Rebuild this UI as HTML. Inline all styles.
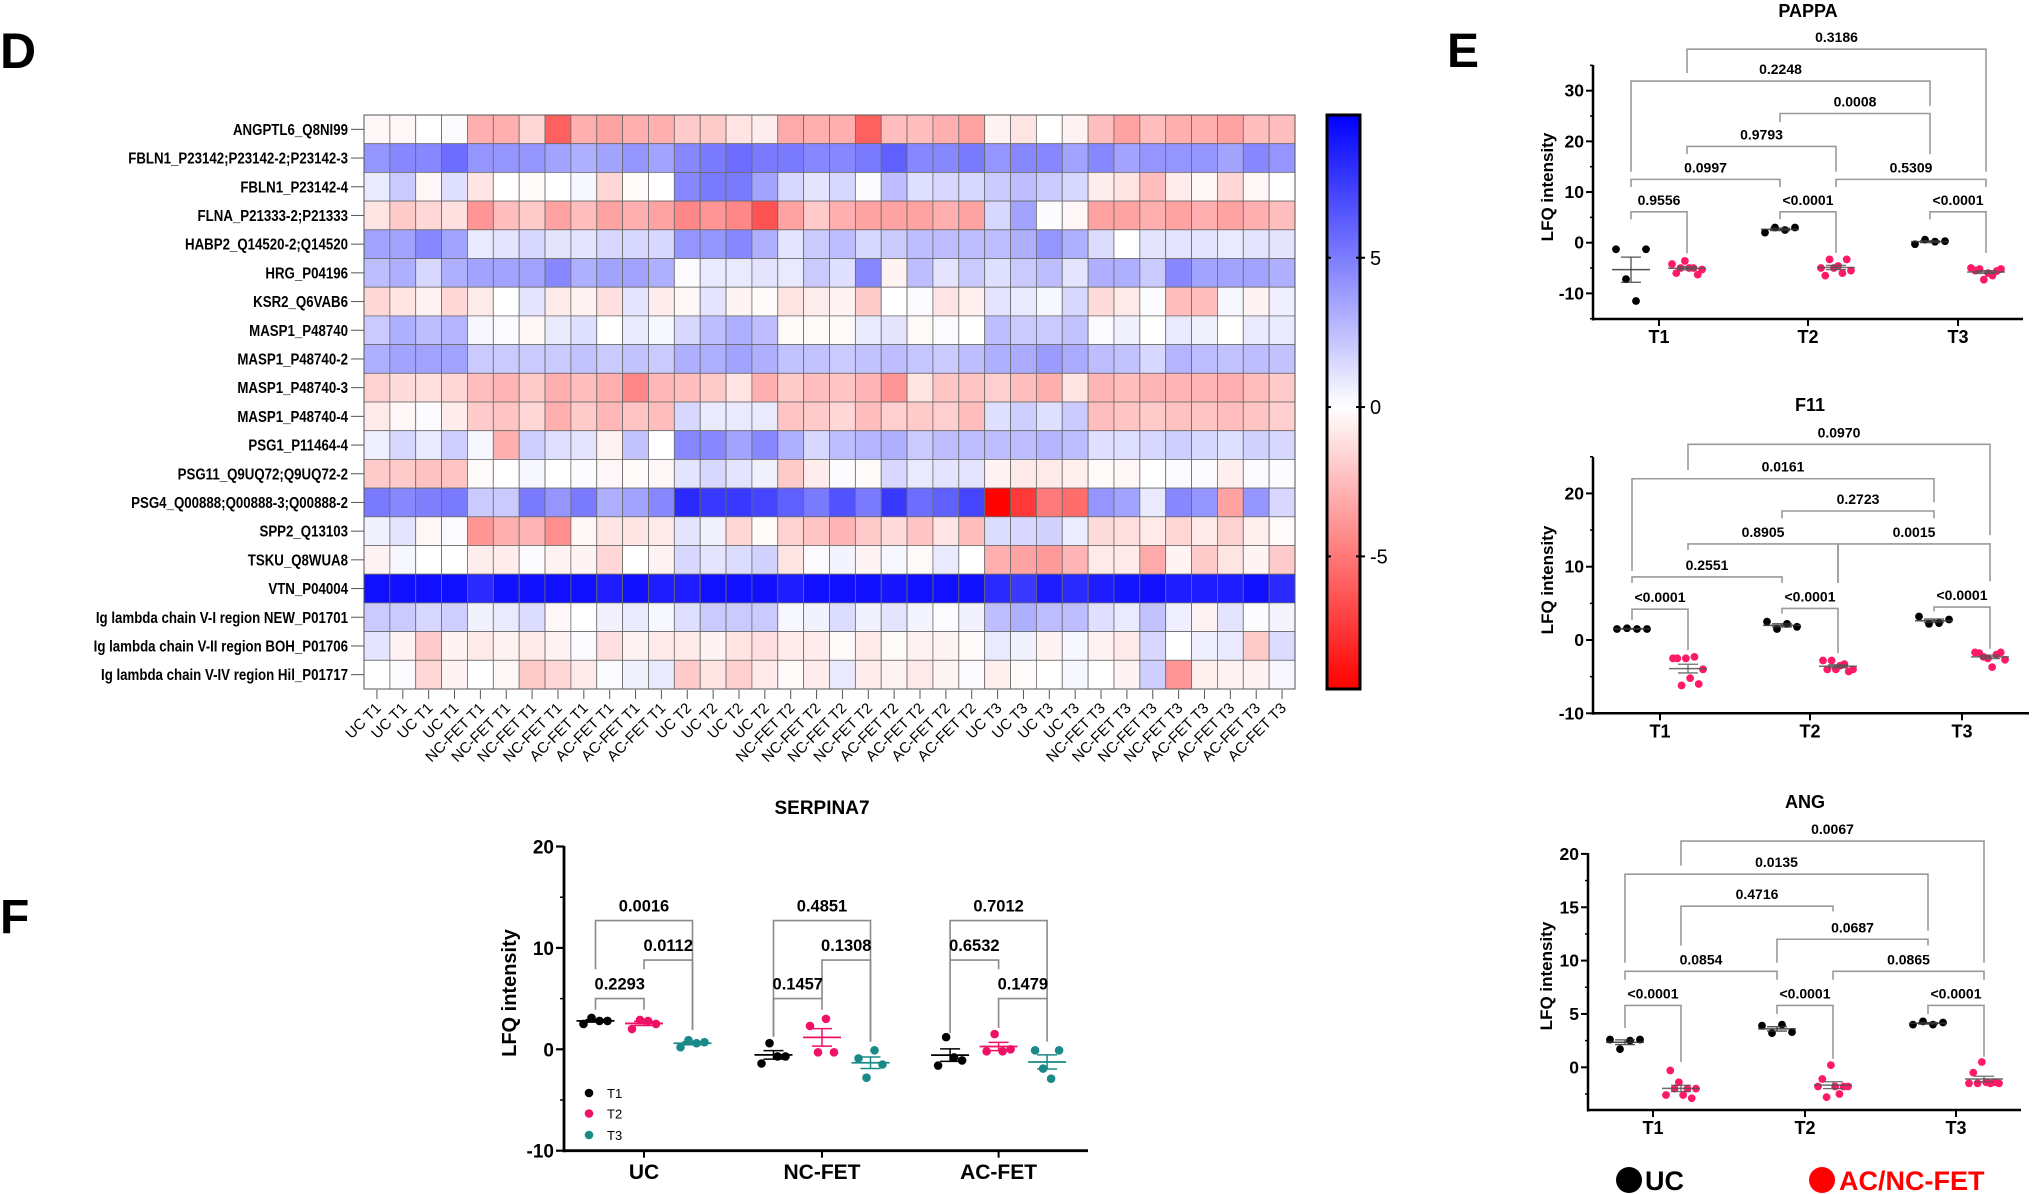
<!DOCTYPE html>
<html><head><meta charset="utf-8"><style>
html,body{margin:0;padding:0;background:#fff;}
svg{display:block;font-family:"Liberation Sans",Arial,sans-serif;}
</style></head><body>
<svg id="fig" width="2032" height="1194" viewBox="0 0 2032 1194" xmlns="http://www.w3.org/2000/svg">
<defs>
<linearGradient id="cbar" x1="0" y1="0" x2="0" y2="1">
<stop offset="0" stop-color="#0000ff"/><stop offset="0.509" stop-color="#ffffff"/><stop offset="1" stop-color="#ff0000"/>
</linearGradient>
</defs>
<text x="0" y="68" font-size="50" font-weight="bold">D</text>
<text x="1447" y="67" font-size="48" font-weight="bold">E</text>
<text x="0" y="933" font-size="48" font-weight="bold">F</text>
<g id="heat"></g>
<g id="cb"></g>
<g id="pappa"></g>
<g id="f11"></g>
<g id="ang"></g>
<g id="serp"></g>
<g>
<circle cx="1629" cy="1180" r="13" fill="#000"/>
<text x="1645" y="1190" font-size="27" font-weight="bold">UC</text>
<circle cx="1822" cy="1180" r="13" fill="#ff0000"/>
<text x="1839" y="1190" font-size="27" font-weight="bold" fill="#ff0000">AC/NC-FET</text>
</g>
</svg>
<script>
const heatRows = ["ANGPTL6_Q8NI99","FBLN1_P23142;P23142-2;P23142-3","FBLN1_P23142-4","FLNA_P21333-2;P21333","HABP2_Q14520-2;Q14520","HRG_P04196","KSR2_Q6VAB6","MASP1_P48740","MASP1_P48740-2","MASP1_P48740-3","MASP1_P48740-4","PSG1_P11464-4","PSG11_Q9UQ72;Q9UQ72-2","PSG4_Q00888;Q00888-3;Q00888-2","SPP2_Q13103","TSKU_Q8WUA8","VTN_P04004","Ig lambda chain V-I region NEW_P01701","Ig lambda chain V-II region BOH_P01706","Ig lambda chain V-IV region Hil_P01717"];
const heatCols = ["UC T1","UC T1","UC T1","UC T1","NC-FET T1","NC-FET T1","NC-FET T1","NC-FET T1","AC-FET T1","AC-FET T1","AC-FET T1","AC-FET T1","UC T2","UC T2","UC T2","UC T2","NC-FET T2","NC-FET T2","NC-FET T2","NC-FET T2","AC-FET T2","AC-FET T2","AC-FET T2","AC-FET T2","UC T3","UC T3","UC T3","UC T3","NC-FET T3","NC-FET T3","NC-FET T3","NC-FET T3","AC-FET T3","AC-FET T3","AC-FET T3","AC-FET T3"];
const heatValues = [
[-0.3,-0.3,0,0.1,-3,-3,-1.5,-6,-3,-3.5,-3,-3,-2,-2,-1,-0.7,-3.2,-3,-3,-6,-2.5,-2.5,-3,-3.5,-0.5,-1,0,-0.5,-2.5,-3.5,-2.5,-3,-3,-3.5,-2.5,-2.5],
[4,4.5,4.5,5.5,4,4,4,3.5,3,3.5,4,3.5,4.5,5,5.5,5,5,4.5,4.5,5,6,4.5,4.5,5,4,4.5,4.5,3.5,4.5,3.5,4,4,4,3.5,4.5,4],
[0.8,2,-0.3,1.2,-1,0,-0.2,0,0.3,-1.5,-0.2,0,4.5,5,5,3.5,1.5,1,1.5,0.2,2.5,1.2,1.5,1.5,2,2.5,2,1.5,-0.7,-1,-2.5,-0.7,-0.3,-1.5,-0.3,0],
[-1,-2,-1.5,-1.2,-4,-2.5,-2,-3.5,-2.5,-3.5,-3,-3.5,-4.5,-4,-4.5,-6.5,-3.5,-2,-3,-3.5,-3.5,-3.5,-3,-3.5,1.5,3.5,0.1,-0.3,-3.5,-3.5,-3,-3.5,-3,-3.5,-3,-2.5],
[3.5,3.5,4.5,3.5,0.8,1,1.5,1,1,1.5,1.5,1.5,4,4,4.5,3,1,2,2.5,1.5,2,2.5,2.5,2.5,2.5,3,4,3,1.3,0,1,1,1,0.8,1,1],
[2.5,3,1.5,3,3.5,3.5,3.5,4.5,3,3.5,3.5,3,0.2,0.8,0.8,1,0.8,2,1.2,4.5,-0.5,2.5,1,2,1.2,2,2.5,1,3,3,2,4.5,3.5,3.5,3.5,3],
[-1.5,-1,-0.5,-1.5,-0.8,0,1,-0.8,-0.5,-1.2,1,-0.7,-0.3,1,-0.4,-0.2,-1,-0.7,-0.4,-2,0,0.2,-1,-0.6,1,0.8,0.3,1.5,-1.3,-0.8,0.1,-2.5,-2.5,0.3,-0.4,0.6],
[2,3,2.5,2.8,0.3,0.2,-0.3,0.8,1.2,0,0.8,0.3,1.5,2.5,3,2.5,-0.2,-0.2,-0.2,0.8,1,-0.2,0.2,0,2.5,2,2,2.3,0.2,0.5,0,0.8,0.5,0,0.8,0.8],
[3,3.5,3.5,3.5,2,2,2,2,2.3,2,2.3,2,3,3,3.5,3,2.3,2.3,2,2.3,2.5,2.2,2,2.5,3,3.2,3.8,3.2,2.5,2.3,1.5,2.8,2.5,2.3,2.5,2.3],
[-1.7,-1.3,-1.2,-1.5,-2.5,-2.8,-2,-3,-2.5,-3,-4.5,-2.7,-2.5,-2,-1,-3,-2,-2.5,-2.2,-2.8,-4,-1,-2.2,-2.2,-1.8,-2.5,-3,-1,-2.8,-2.5,-2.8,-2.8,-2.8,-3,-2.5,-2],
[-0.8,-0.3,0.1,-0.7,-2,-2.2,-1.5,-3,-2,-2.7,-2.2,-2.5,1.5,0.8,0.8,0.8,-2.2,-2,-1.5,-2.5,-1.8,-2,-1.8,-2.5,1.2,1.8,1.2,2,-2.5,-2.2,-2,-2.3,-2.2,-2.5,-2.2,-1.8],
[0.6,1.5,0.8,1.8,0.3,-3,1.8,1.2,1,-0.5,2.3,0,4.5,4.5,3.5,4.5,3,1.5,2.5,2.8,3,2,2.5,2.5,2.5,2.5,2.8,2.5,1.2,1.2,1.5,1.8,1.5,1.2,1.7,1.5],
[-2,-2,-2.3,-2.2,-0.2,0,0.3,0,0.1,-0.3,-0.2,-0.3,1,1.5,1,0.5,-2,-0.7,0.1,-0.2,1.5,0.8,1,1,-0.5,-0.8,-0.8,-0.6,-0.2,-0.3,0,0.2,0.2,-0.6,0.2,0.1],
[5,4.5,4.8,5,2,2,5,4,5,3,3.5,4.5,8,7.5,7.5,7,6,5,6.5,5,7.5,5.5,6,7,-9.5,-7.5,-5,-5.5,4,3.5,0.8,4.5,4,-3.5,4,1.5],
[0.5,1,-0.3,0.2,-4,-3,-2.8,-4.2,-0.3,-1,-1,-0.8,1,0.5,-1.5,-0.2,-1.7,-2.2,-2.8,-2,-1.3,-2.2,-1,-2.5,1.3,1.5,1.7,0.7,-1.3,-1.2,-0.8,-1.5,-0.8,-1.7,-0.6,-0.2],
[-0.5,0.3,0,0,-0.7,-0.7,0.1,-0.5,-0.4,-1.5,0,-0.5,1.5,1,1.3,1.7,-1,0.2,0.4,-0.4,0.3,-0.2,0.8,0,-3,-3.5,-3.8,-2.8,-0.8,-0.8,-3.2,-0.4,-2,-1,-0.4,-2],
[9,9,9,9,8,9,9,9,9,8.5,9,8.5,8.5,9,9,9,8.5,9,9,9,8.8,9,9,9,8,7.5,8.5,8,8.5,8.8,9,8.5,8.5,8.5,9,8],
[2,2,1.5,1.8,0.5,0.8,1.3,-0.3,0,0.5,0.8,0.3,1.2,2,2,2,0.3,0.5,1.3,0.5,1,0.4,0.2,0.5,2.5,3,2.5,2.5,1.2,0.8,2.3,0.6,-0.5,1,0.1,0.4],
[1,-0.5,-2,-0.4,-0.8,-0.5,-0.8,-0.5,0.2,-1.2,-0.5,-0.8,-0.8,-0.4,-1,-1.2,-0.7,-0.7,-0.2,-0.8,-0.2,-0.5,-0.4,-0.2,0.8,0.5,-0.5,0.3,-0.5,-0.8,1.5,0,0.6,0.8,-2,1.3],
[0,0.1,-1.5,-0.5,0,-0.3,-2,-1.5,-0.8,0.2,0.5,0.8,-2,-1,-1.8,-0.8,-0.2,-0.7,0.8,-0.7,-0.5,-0.8,-0.4,0.2,-0.6,-0.2,0,0.3,0,-0.4,1.8,-4,-0.6,-0.5,-0.5,0.3]
];
const cbTicks = [5, 0, -5];
const cbMax = 9.78, cbMin = -9.44;

const eCategories = ["T1","T2","T3"];
const pappaUC = [[-1.3,-7.2,-11.5,-1.3],[2.0,3.0,2.5,3.0],[-0.3,0.6,0.2,0.3]];
const pappaFET = [[-4.2,-6.0,-5.0,-3.6,-5.0,-5.0,-6.3,-5.3],[-5.0,-6.5,-3.3,-5.0,-4.6,-6.0,-3.3,-5.5],[-5.0,-5.5,-5.2,-7.3,-6.0,-6.5,-5.6,-5.2]];
const pappaTicks = [-10,0,10,20,30];
const pappaBrackets = [[1,5,38.2,33.5,14,"0.3186"],[0,4,31.9,14,27,"0.2248"],[2,4,25.5,23.8,17.5,"0.0008"],[1,3,19,17.5,14,"0.9793"],[0,2,12.5,11,11,"0.0997"],[3,5,12.5,11,11,"0.5309"],[0,1,6.1,4.6,-2.1,"0.9556"],[2,3,6.1,4.6,-2,"<0.0001"],[4,5,6.1,4.6,-2,"<0.0001"]];
const f11UC = [[1.5,1.6,1.5,1.5],[2.5,1.5,2.2,1.8],[3.2,2.2,2.3,2.8]];
const f11FET = [[-2.5,-2.5,-6.2,-2.5,-5.2,-2.3,-6.0,-4.0],[-2.8,-4.0,-2.8,-4.0,-3.5,-3.3,-4.3,-4.0],[-1.7,-1.8,-2.3,-2.5,-3.7,-2.0,-1.7,-2.7]];
const f11Ticks = [-10,0,10,20];
const f11Brackets = [[1,5,26.7,23.2,14.3,"0.0970"],[0,4,22,9.4,18.8,"0.0161"],[2,4,17.6,16.6,16.6,"0.2723"],[1,3,13.1,12.3,7.8,"0.8905"],[3,5,13.1,7.8,8,"0.0015"],[0,2,8.6,7.8,7.8,"0.2551"],[0,1,4.2,2.7,-1.4,"<0.0001"],[2,3,4.3,3.6,-1.8,"<0.0001"],[4,5,4.5,3.9,-1.2,"<0.0001"]];
const angUC = [[2.6,1.7,2.5,2.6],[3.9,3.2,4.0,3.3],[4.0,4.3,4.0,4.2]];
const angFET = [[-2.6,-0.3,-2.0,-1.4,-2.6,-2.0,-2.9,-2.0],[-1.8,-1.1,-2.8,0.2,-1.8,-2.5,-1.8,-1.8],[-1.5,-0.5,-1.5,0.5,-1.4,-1.5,-1.4,-1.5]];
const angTicks = [0,5,10,15,20];
const angBrackets = [[1,5,21.2,18.9,9.8,"0.0067"],[0,4,18.1,9.8,12.8,"0.0135"],[1,3,15.1,11.4,14.6,"0.4716"],[2,4,12,9.8,11.4,"0.0687"],[0,2,9,8.2,8.2,"0.0854"],[3,5,9,8.2,8.2,"0.0865"],[0,1,5.8,3.7,0.5,"<0.0001"],[2,3,5.8,5,0.8,"<0.0001"],[4,5,5.8,5,1,"<0.0001"]];

const serpCategories = ["UC","NC-FET","AC-FET"];
const serpT1 = [[2.5,3.1,2.8,2.8],[-1.4,0.6,-0.7,-0.7],[-1.6,1.2,-0.8,-1.1]];
const serpT2 = [[2.0,2.9,2.8,2.5],[2.3,-0.3,3.0,-0.3],[-0.2,1.5,-0.2,0.0]];
const serpT3 = [[0.2,0.9,0.6,0.7],[-0.9,-2.8,-0.1,-1.5],[-0.1,-1.9,-2.9,-0.1]];
const serpTicks = [-10,0,10,20];
const serpBrackets = [[0,0,2,12.7,7.9,1.9,"0.0016"],[0,1,2,8.8,7.9,1.9,"0.0112"],[0,0,1,5,3.9,3.9,"0.2293"],[1,0,2,12.7,1.25,0.76,"0.4851"],[1,1,2,8.8,5,0.76,"0.1308"],[1,0,1,5,1.25,3.9,"0.1457"],[2,0,2,12.7,8.8,5,"0.7012"],[2,0,1,8.8,1.6,7.9,"0.6532"],[2,1,2,5,2.1,0.76,"0.1479"]];

const NS = "http://www.w3.org/2000/svg";
function mk(parent, tag, attrs, text) {
  const e = document.createElementNS(NS, tag);
  for (const k in attrs) e.setAttribute(k, attrs[k]);
  if (text !== undefined) e.textContent = text;
  parent.appendChild(e);
  return e;
}
function colorFor(v) {
  const t = Math.min(1, Math.abs(v) / 9.6);
  const c = Math.round(255 * (1 - t));
  return v >= 0 ? `rgb(${c},${c},255)` : `rgb(255,${c},${c})`;
}

(function () {
  const g = document.getElementById('heat');
  const x0 = 364, x1 = 1295, y0 = 115, y1 = 689;
  const cw = (x1 - x0) / heatCols.length, rh = (y1 - y0) / heatRows.length;
  heatValues.forEach((row, r) => {
    row.forEach((v, c) => {
      const rect = mk(g, 'rect', {x: x0 + c * cw, y: y0 + r * rh, width: cw, height: rh, fill: colorFor(v), stroke: '#6a6a6a', 'stroke-width': 0.8});
      
      
    });
  });
  mk(g, 'rect', {x: x0, y: y0, width: x1 - x0, height: y1 - y0, fill: 'none', stroke: '#555', 'stroke-width': 1});
  heatRows.forEach((name, r) => {
    const cy = y0 + (r + 0.5) * rh;
    mk(g, 'line', {x1: 351, x2: x0, y1: cy, y2: cy, stroke: '#555', 'stroke-width': 1});
    const tg = mk(g, 'g', {transform: `translate(348,${cy + 5.5}) scale(0.83,1)`});
    const t = mk(tg, 'text', {x: 0, y: 0, 'text-anchor': 'end', 'font-size': 16, 'font-weight': 'bold'}, name);
    
    
  });
  heatCols.forEach((name, c) => {
    const cx = x0 + (c + 0.5) * cw;
    mk(g, 'line', {x1: cx, x2: cx, y1: y1 + 1, y2: y1 + 10, stroke: '#555', 'stroke-width': 1});
    const t = mk(g, 'text', {x: 0, y: 0, transform: `translate(${cx + 5},${y1 + 20}) rotate(-45)`, 'text-anchor': 'end', 'font-size': 15}, name);
    
    
  });
})();

(function () {
  const g = document.getElementById('cb');
  const x0 = 1327, x1 = 1360, y0 = 115, y1 = 689;
  mk(g, 'rect', {x: x0, y: y0, width: x1 - x0, height: y1 - y0, fill: 'url(#cbar)', stroke: '#000', 'stroke-width': 3});
  const yv = v => y0 + (cbMax - v) / (cbMax - cbMin) * (y1 - y0);
  cbTicks.forEach(v => {
    const y = yv(v);
    mk(g, 'line', {x1: x0 - 1, x2: x0 + 4, y1: y, y2: y, stroke: '#000', 'stroke-width': 2});
    mk(g, 'line', {x1: x1 - 4, x2: x1 + 5, y1: y, y2: y, stroke: '#000', 'stroke-width': 2});
    const t = mk(g, 'text', {x: 1370, y: y + 7, 'font-size': 20}, String(v));
    
    
  });
})();

function stats(a) {
  const m = a.reduce((s, v) => s + v, 0) / a.length;
  const sd = Math.sqrt(a.reduce((s, v) => s + (v - m) * (v - m), 0) / (a.length - 1));
  return [m, sd / Math.sqrt(a.length)];
}
function offsets(n, spread) {
  const o = [];
  for (let i = 0; i < n; i++) o.push(n === 1 ? 0 : -spread + 2 * spread * i / (n - 1));
  return o;
}

function drawE(id, cfg, uc, fet, ticks, brackets) {
  const g = document.getElementById(id);
  const y = v => cfg.y0 - cfg.k * v;
  const gx = i => cfg.tx[Math.floor(i / 2)] + (i % 2 === 0 ? -cfg.off : cfg.off);
  mk(g, 'text', {x: cfg.tx[1], y: cfg.titleY, 'text-anchor': 'middle', 'font-size': 18, 'font-weight': 'bold'}, cfg.title);
  mk(g, 'line', {x1: cfg.ax, x2: cfg.ax, y1: cfg.top, y2: cfg.bot + 1.5, stroke: '#000', 'stroke-width': 2.5});
  mk(g, 'line', {x1: cfg.ax, x2: cfg.xEnd, y1: cfg.bot, y2: cfg.bot, stroke: '#000', 'stroke-width': 2.5});
  for (let v = cfg.minorStart; y(v) >= cfg.top - 0.5; v += cfg.minor) {
    if (y(v) > cfg.bot + 0.5) continue;
    mk(g, 'line', {x1: cfg.ax - 3, x2: cfg.ax, y1: y(v), y2: y(v), stroke: '#000', 'stroke-width': 1.5});
  }
  ticks.forEach(v => {
    mk(g, 'line', {x1: cfg.ax - 7, x2: cfg.ax, y1: y(v), y2: y(v), stroke: '#000', 'stroke-width': 2});
    const t = mk(g, 'text', {x: cfg.ax - 9, y: y(v) + 6, 'text-anchor': 'end', 'font-size': 17.5, 'font-weight': 'bold'}, String(v));
    
    
  });
  eCategories.forEach((c, i) => {
    mk(g, 'line', {x1: cfg.tx[i], x2: cfg.tx[i], y1: cfg.bot, y2: cfg.bot + 7, stroke: '#000', 'stroke-width': 2});
    const t = mk(g, 'text', {x: cfg.tx[i], y: cfg.bot + 24, 'text-anchor': 'middle', 'font-size': 18, 'font-weight': 'bold'}, c);
    
    
  });
  const yt = mk(g, 'text', {x: 0, y: 0, transform: `translate(${cfg.ytx},${cfg.yty}) rotate(-90)`, 'text-anchor': 'middle', 'font-size': 17, 'font-weight': 'bold'}, 'LFQ intensity');
  
  
  brackets.forEach(b => {
    const xa = gx(b[0]), xb = gx(b[1]);
    mk(g, 'path', {d: `M${xa},${y(b[3])}V${y(b[2])}H${xb}V${y(b[4])}`, fill: 'none', stroke: '#9a9a9a', 'stroke-width': 1.6});
    const t = mk(g, 'text', {x: (xa + xb) / 2, y: y(b[2]) - 7, 'text-anchor': 'middle', 'font-size': 14, 'font-weight': 'bold'}, b[5]);
    
    
  });
  for (let i = 0; i < 3; i++) {
    [[uc[i], 0, '#000'], [fet[i], 1, '#ff1a66']].forEach(([arr, s, col]) => {
      const cx = gx(2 * i + s);
      const off = offsets(arr.length, 15);
      arr.forEach((v, j) => {
        const c = mk(g, 'circle', {cx: cx + off[j], cy: y(v), r: 3.9, fill: col});
        
        
      });
      const [m, se] = stats(arr);
      const lc = s === 0 ? '#333' : '#555';
      mk(g, 'line', {x1: cx - 19, x2: cx + 19, y1: y(m), y2: y(m), stroke: lc, 'stroke-width': 1.5, opacity: 0.85});
      mk(g, 'path', {d: `M${cx - 10},${y(m + se)}H${cx + 10}M${cx},${y(m + se)}V${y(m - se)}M${cx - 10},${y(m - se)}H${cx + 10}`, stroke: lc, 'stroke-width': 1.3, fill: 'none', opacity: 0.85});
    });
  }
}
drawE('pappa', {title: 'PAPPA', titleY: 17, ax: 1593, top: 65, bot: 319, y0: 242.7, k: 5.067, xEnd: 2023, tx: [1659, 1808, 1958], off: 28, minor: 5, minorStart: -15, ytx: 1553, yty: 187}, pappaUC, pappaFET, pappaTicks, pappaBrackets);
drawE('f11', {title: 'F11', titleY: 411, ax: 1593, top: 457, bot: 713.3, y0: 640, k: 7.33, xEnd: 2029, tx: [1660, 1810, 1962], off: 28, minor: 5, minorStart: -10, ytx: 1553, yty: 580}, f11UC, f11FET, f11Ticks, f11Brackets);
drawE('ang', {title: 'ANG', titleY: 808, ax: 1588, top: 853, bot: 1110, y0: 1067.3, k: 10.67, xEnd: 2021, tx: [1653, 1805, 1956], off: 28, minor: 2.5, minorStart: -2.5, ytx: 1552, yty: 976}, angUC, angFET, angTicks, angBrackets);

(function () {
  const g = document.getElementById('serp');
  const ax = 564, top = 846, bot = 1150.7, y0 = 1049.3, k = 10.14, xEnd = 1088;
  const gc = [644, 822, 998.6], off = 48.5;
  const y = v => y0 - k * v;
  const px = (gi, s) => gc[gi] + (s - 1) * off;
  mk(g, 'text', {x: 822, y: 814, 'text-anchor': 'middle', 'font-size': 19, 'font-weight': 'bold'}, 'SERPINA7');
  mk(g, 'line', {x1: ax, x2: ax, y1: top, y2: bot + 1.5, stroke: '#000', 'stroke-width': 2.8});
  mk(g, 'line', {x1: ax, x2: xEnd, y1: bot, y2: bot, stroke: '#000', 'stroke-width': 2.8});
  for (let v = -5; v <= 15; v += 10) mk(g, 'line', {x1: ax - 4, x2: ax, y1: y(v), y2: y(v), stroke: '#000', 'stroke-width': 1.5});
  serpTicks.forEach(v => {
    mk(g, 'line', {x1: ax - 8, x2: ax, y1: y(v), y2: y(v), stroke: '#000', 'stroke-width': 2.2});
    const t = mk(g, 'text', {x: ax - 10, y: y(v) + 7, 'text-anchor': 'end', 'font-size': 19, 'font-weight': 'bold'}, String(v));
    
    
  });
  serpCategories.forEach((c, i) => {
    mk(g, 'line', {x1: gc[i], x2: gc[i], y1: bot, y2: bot + 7, stroke: '#000', 'stroke-width': 2});
    const t = mk(g, 'text', {x: gc[i], y: 1179, 'text-anchor': 'middle', 'font-size': 21, 'font-weight': 'bold'}, c);
    
    
  });
  const yt = mk(g, 'text', {x: 0, y: 0, transform: `translate(516,993) rotate(-90)`, 'text-anchor': 'middle', 'font-size': 20, 'font-weight': 'bold'}, 'LFQ intensity');
  
  
  serpBrackets.forEach(b => {
    const xa = px(b[0], b[1]), xb = px(b[0], b[2]);
    mk(g, 'path', {d: `M${xa},${y(b[4])}V${y(b[3])}H${xb}V${y(b[5])}`, fill: 'none', stroke: '#8a8a8a', 'stroke-width': 1.6});
    const t = mk(g, 'text', {x: (xa + xb) / 2, y: y(b[3]) - 9, 'text-anchor': 'middle', 'font-size': 16.5, 'font-weight': 'bold'}, b[6]);
    
    
  });
  const series = [[serpT1, '#000'], [serpT2, '#ee1166'], [serpT3, '#1a8a88']];
  series.forEach(([data, col], s) => {
    data.forEach((arr, gi) => {
      const cx = px(gi, s);
      const o = offsets(arr.length, 12);
      arr.forEach((v, j) => {
        const c = mk(g, 'circle', {cx: cx + o[j], cy: y(v), r: 4.3, fill: col});
        
        
      });
      const [m, se] = stats(arr);
      mk(g, 'line', {x1: cx - 19, x2: cx + 19, y1: y(m), y2: y(m), stroke: col, 'stroke-width': 1.8});
      mk(g, 'path', {d: `M${cx - 10},${y(m + se)}H${cx + 10}M${cx},${y(m + se)}V${y(m - se)}M${cx - 10},${y(m - se)}H${cx + 10}`, stroke: col, 'stroke-width': 1.5, fill: 'none'});
    });
  });
  [['T1', '#000', 1093], ['T2', '#ee1166', 1113.5], ['T3', '#1a8a88', 1135]].forEach(([l, col, yy]) => {
    const c = mk(g, 'circle', {cx: 589, cy: yy, r: 4.3, fill: col});
    
    
    const t = mk(g, 'text', {x: 607, y: yy + 5, 'font-size': 13}, l);
    
    
  });
})();
</script>
</body></html>
